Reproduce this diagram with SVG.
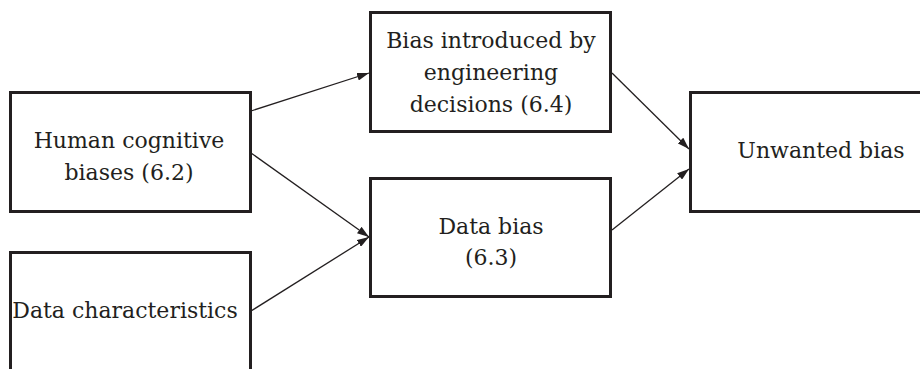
<svg xmlns="http://www.w3.org/2000/svg" width="920" height="369" viewBox="0 0 920 369">
<defs>
<marker id="arr" viewBox="0 0 12 8" refX="12" refY="4" markerWidth="12" markerHeight="8" markerUnits="userSpaceOnUse" orient="auto">
<path d="M0,0 L12,4 L0,8 Z" fill="#231f20"/>
</marker>
<style>
.box{fill:#fff;stroke:#231f20;stroke-width:3}
.t{font-family:"DejaVu Serif","Liberation Serif",serif;font-size:22px;fill:#231f20;text-anchor:middle}
.c{stroke:#231f20;stroke-width:1.3;fill:none;marker-end:url(#arr)}
</style>
</defs>
<g id="connectors">
<line class="c" x1="251" y1="111" x2="369" y2="73"/>
<line class="c" x1="251" y1="153" x2="369" y2="237"/>
<line class="c" x1="251" y1="311" x2="369" y2="237"/>
<line class="c" x1="612" y1="73" x2="689" y2="149"/>
<line class="c" x1="612" y1="230" x2="689" y2="169"/>
</g>
<g id="human">
<rect class="box" x="10.5" y="92.5" width="240" height="119"/>
<text class="t" x="129" y="148">Human cognitive</text>
<text class="t" x="129" y="180">biases (6.2)</text>
</g>
<g id="datachar">
<rect class="box" x="10.5" y="252.5" width="240" height="130"/>
<text class="t" x="125" y="318">Data characteristics</text>
</g>
<g id="engineering">
<rect class="box" x="370.5" y="12.5" width="240" height="119"/>
<text class="t" x="491" y="48">Bias introduced by</text>
<text class="t" x="491" y="80">engineering</text>
<text class="t" x="491" y="112">decisions (6.4)</text>
</g>
<g id="databias">
<rect class="box" x="370.5" y="178.5" width="240" height="118"/>
<text class="t" x="491" y="234">Data bias</text>
<text class="t" x="491" y="265">(6.3)</text>
</g>
<g id="unwanted">
<rect class="box" x="690.5" y="92.5" width="262" height="119"/>
<text class="t" x="821" y="158">Unwanted bias</text>
</g>
</svg>
